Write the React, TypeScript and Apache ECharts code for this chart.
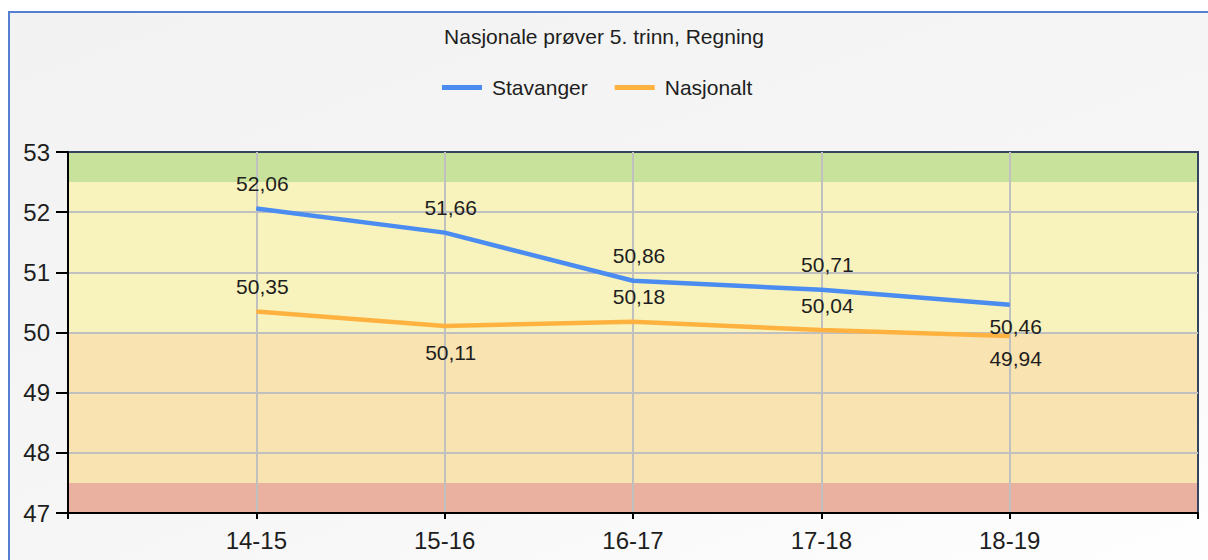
import React, { useEffect, useRef } from "react";
import * as echarts from "echarts";

const titleText = "Nasjonale prøver 5. trinn, Regning";
const categories = ["14-15", "15-16", "16-17", "17-18", "18-19"];
const stavanger = [52.06, 51.66, 50.86, 50.71, 50.46];
const nasjonalt = [50.35, 50.11, 50.18, 50.04, 49.94];
const stavangerLabelPos = ["top", "top", "top", "top", "bottom"];
const nasjonaltLabelPos = ["top", "bottom", "top", "top", "bottom"];
const bandFrom = [52.5, 50, 47.5, 47];
const bandTo = [53, 52.5, 50, 47.5];
const bandColors = ["#C9E29B", "#F8F3BC", "#F9E3B1", "#EAB1A1"];

const fmt = (v: number) => v.toFixed(2).replace(".", ",");

function buildData(values: number[], pos: string[]) {
  return values.map((v, i) => ({
    value: [i + 1, v],
    label: {
      position: pos[i],
      distance: pos[i] === "top" ? 14 : (i === 1 ? 16 : 11),
    },
  }));
}

export default function App() {
  const ref = useRef<HTMLDivElement>(null);
  useEffect(() => {
    if (!ref.current) return;
    const chart = echarts.init(ref.current, null, { renderer: "svg" });
    const labelCommon = {
      show: true,
      fontFamily: "Liberation Sans",
      fontSize: 21,
      color: "#1e1e1e",
      offset: [6, 0],
      formatter: (p: any) => fmt(p.value[1]),
    };
    chart.setOption({
      animation: false,
      backgroundColor: "transparent",
      title: {
        text: titleText,
        left: "center",
        top: 21,
        textStyle: {
          fontFamily: "Liberation Sans",
          fontSize: 21,
          fontWeight: "normal",
          color: "#1e1e1e",
        },
      },
      legend: {
        data: ["Stavanger", "Nasjonalt"],
        left: 437,
        top: 72,
        icon: "rect",
        itemWidth: 40,
        itemHeight: 5,
        itemGap: 27,
        textStyle: {
          fontFamily: "Liberation Sans",
          fontSize: 21,
          color: "#1e1e1e",
          padding: [0, 0, 0, 5],
        },
      },
      grid: {
        left: 68,
        right: 10,
        top: 152,
        bottom: 47,
        show: true,
        z: 2,
        borderColor: "#34445E",
        borderWidth: 2,
        backgroundColor: "transparent",
      },
      xAxis: {
        type: "value",
        min: 0,
        max: 6,
        interval: 1,
        z: 2,
        axisLine: { show: true, onZero: false, lineStyle: { color: "#000", width: 2 } },
        axisTick: { show: true, length: 6, lineStyle: { color: "#000", width: 2 } },
        axisLabel: {
          margin: 15,
          fontFamily: "Liberation Sans",
          fontSize: 24,
          color: "#1e1e1e",
          formatter: (v: number) => categories[v - 1] ?? "",
        },
        splitLine: {
          show: true,
          showMinLine: false,
          showMaxLine: false,
          lineStyle: { color: "#C0C0C0", width: 2 },
        },
      },
      yAxis: {
        type: "value",
        min: 47,
        max: 53,
        interval: 1,
        z: 2,
        axisLine: { show: true, lineStyle: { color: "#000", width: 2 } },
        axisTick: { show: true, length: 12, lineStyle: { color: "#000", width: 2 } },
        axisLabel: {
          margin: 18,
          fontFamily: "Liberation Sans",
          fontSize: 24,
          color: "#1e1e1e",
        },
        splitLine: {
          show: true,
          showMinLine: false,
          showMaxLine: false,
          lineStyle: { color: "#C0C0C0", width: 2 },
        },
      },
      series: [
        {
          name: "Stavanger",
          type: "line",
          z: 3,
          data: buildData(stavanger, stavangerLabelPos),
          symbol: "circle",
          symbolSize: 1,
          showSymbol: true,
          color: "#4A8CF0",
          itemStyle: { color: "#4A8CF0" },
          lineStyle: { color: "#4A8CF0", width: 4.5 },
          label: labelCommon,
          markArea: {
            silent: true,
            z: 1,
            itemStyle: { opacity: 1 },
            data: bandFrom.map((f, i) => [
              { yAxis: f, itemStyle: { color: bandColors[i], opacity: 1 } },
              { yAxis: bandTo[i] },
            ]),
          },
        },
        {
          name: "Nasjonalt",
          type: "line",
          z: 3,
          data: buildData(nasjonalt, nasjonaltLabelPos),
          symbol: "circle",
          symbolSize: 1,
          showSymbol: true,
          color: "#FFB23F",
          itemStyle: { color: "#FFB23F" },
          lineStyle: { color: "#FFB23F", width: 4.5 },
          label: labelCommon,
        },
      ],
    });
    return () => chart.dispose();
  }, []);

  return (
    <div style={{ position: "fixed", left: 0, top: 0, width: 1208, height: 560, background: "#fff", overflow: "hidden" }}>
      <div
        style={{
          position: "absolute",
          left: 8,
          top: 11,
          width: 1220,
          height: 570,
          borderLeft: "2px solid #5580D2",
          borderTop: "2px solid #5580D2",
          background: "linear-gradient(160deg, #F2F2F2 0%, #F6F6F6 55%, #FFFFFF 100%)",
        }}
      />
      <div ref={ref} style={{ position: "absolute", left: 0, top: 0, width: 1208, height: 560 }} />
    </div>
  );
}
